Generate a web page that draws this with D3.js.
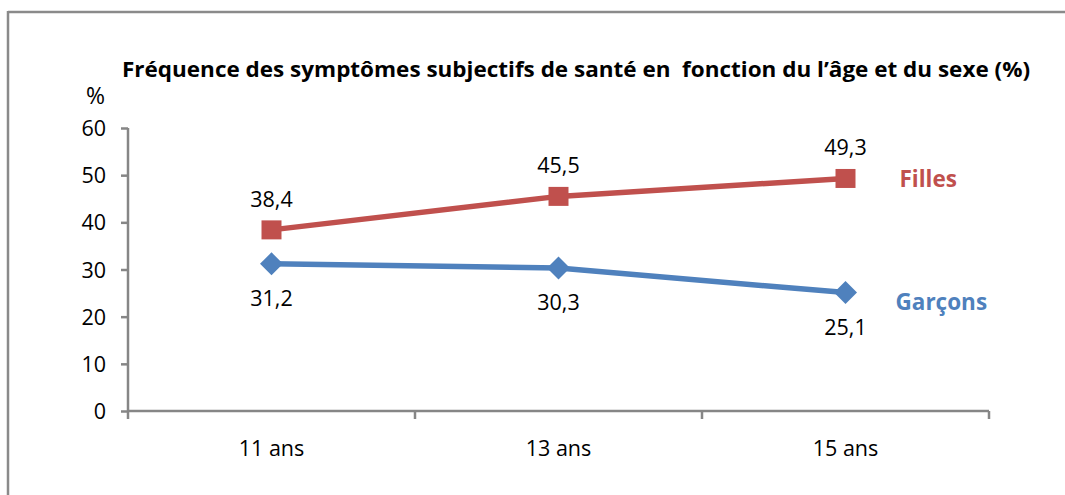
<!DOCTYPE html>
<html><head><meta charset="utf-8">
<script src="https://cdn.jsdelivr.net/npm/d3@7"></script>
<style>body{margin:0;background:#fff}svg{display:block}</style>
</head><body>
<svg id="c" width="1065" height="495"></svg>
<script>
const categories = ["11 ans", "13 ans", "15 ans"];
const filles = [38.4, 45.5, 49.3];
const garcons = [31.2, 30.3, 25.1];
const yTicks = [0, 10, 20, 30, 40, 50, 60];
const seriesNames = ["Filles", "Garçons"];
const title = "Fréquence des symptômes subjectifs de santé en  fonction du l’âge et du sexe (%)";

const svg = d3.select("#c");
const font = "'Open Sans', 'Noto Sans', sans-serif";
const red = "#C0504D", blue = "#4F81BD", axisCol = "#868686";
const fs = 21.5;

// outer frame (partial, top & left visible)
svg.append("line").attr("x1", 8).attr("x2", 1065).attr("y1", 12).attr("y2", 12).attr("stroke", "#8a8a8a").attr("stroke-width", 2.5);
svg.append("line").attr("x1", 8).attr("x2", 8).attr("y1", 11).attr("y2", 495).attr("stroke", "#8a8a8a").attr("stroke-width", 2.5);

const x = d3.scaleBand().domain(categories).range([128, 989]);
const y = d3.scaleLinear().domain([0, 60]).range([411, 128]);

// title
svg.append("text").attr("x", 122).attr("y", 77).attr("font-family", font).attr("font-weight", "bold")
  .attr("font-size", 22).attr("textLength", 908).attr("lengthAdjust", "spacingAndGlyphs")
  .attr("fill", "#000").style("white-space", "pre").text(title);
svg.append("text").attr("x", 86).attr("y", 104).attr("font-family", font).attr("font-size", 23).attr("fill", "#000").text("%");

// y axis
const ya = svg.append("g").attr("transform", "translate(128,0)")
  .call(d3.axisLeft(y).tickValues(yTicks).tickSize(7).tickPadding(15));
ya.select(".domain").attr("stroke", axisCol).attr("stroke-width", 2.5).attr("d", "M0,128V411");
ya.selectAll(".tick line").attr("stroke", axisCol).attr("stroke-width", 2.5);
ya.selectAll(".tick text").attr("font-family", font).attr("font-size", fs).attr("fill", "#000").attr("dy", "0.35em");

// x axis
const xa = svg.append("g").attr("transform", "translate(0,411)")
  .call(d3.axisBottom(x).tickSize(0).tickPadding(30));
xa.select(".domain").attr("stroke", axisCol).attr("stroke-width", 2.5).attr("d", "M128,0H989");
xa.selectAll(".tick text").attr("font-family", font).attr("font-size", fs).attr("fill", "#000");
const bounds = categories.map(c => x(c)).concat([x.range()[1]]);
xa.selectAll(".bt").data(bounds).enter().append("line").attr("class", "bt")
  .attr("x1", d => d).attr("x2", d => d).attr("y1", 0).attr("y2", 8)
  .attr("stroke", axisCol).attr("stroke-width", 2.5);

const cx = c => x(c) + x.bandwidth() / 2;
const line = d3.line().x(d => cx(d.c)).y(d => y(d.v));

function drawSeries(vals, color, sym, labelDy, name, nameDx, nameDy) {
  const data = categories.map((c, i) => ({c, v: vals[i]}));
  svg.append("path").datum(data).attr("d", line).attr("fill", "none")
    .attr("stroke", color).attr("stroke-width", 5.5).attr("stroke-linejoin", "round");
  svg.selectAll(null).data(data).enter().append("path")
    .attr("transform", d => `translate(${cx(d.c)},${y(d.v)})`)
    .attr("d", sym).attr("fill", color);
  svg.selectAll(null).data(data).enter().append("text")
    .attr("x", d => cx(d.c)).attr("y", d => y(d.v) + labelDy)
    .attr("text-anchor", "middle").attr("font-family", font).attr("font-size", fs).attr("fill", "#000")
    .text(d => d.v.toFixed(1).replace(".", ","));
  const last = data[data.length - 1];
  svg.append("text").attr("x", cx(last.c) + nameDx).attr("y", y(last.v) + nameDy)
    .attr("font-family", font).attr("font-weight", "bold").attr("font-size", 22.5).attr("fill", color).text(name);
}
const square = "M-10,-9.5H10V9.5H-10Z";
const diamond = "M0,-11.5L11.5,0L0,11.5L-11.5,0Z";
drawSeries(filles, red, square, -23, seriesNames[0], 54, 9);
drawSeries(garcons, blue, diamond, 42, seriesNames[1], 50, 17);
</script>
</body></html>
